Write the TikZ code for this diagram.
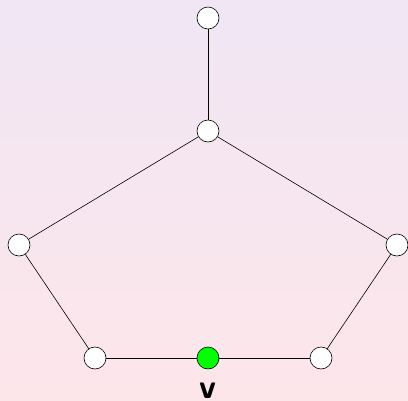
\documentclass[tikz,border=0pt]{standalone}
\usepackage{fontspec}
\usepackage{tikz}
\usetikzlibrary{calc,positioning}
\usepackage{xcolor}
\definecolor{bgtop}{RGB}{240,230,244}
\definecolor{bgbot}{RGB}{253,230,234}
\tikzset{
  vert/.style={circle, draw, fill=white, minimum size=22pt, inner sep=0pt, line width=0.6pt},
  edge/.style={line width=0.6pt}
}
\begin{document}
\begin{tikzpicture}[x=1pt, y=-1pt]
\shade[top color=bgtop, bottom color=bgbot] (0,0) rectangle (408,400);
\useasboundingbox (0,0) rectangle (408,400);

% vertices of the graph
\foreach \name/\x/\y in {t/208/18, c/208/131, l/19/245, r/397/245, bl/95/358, br/321/358}{
  \node[vert] (\name) at (\x,\y) {};
}
\node[vert, fill=green] (v) at (208,358) {};
\node[anchor=north, inner sep=0pt, font=\sffamily\bfseries\fontsize{34}{34}\selectfont] (vlab) at (208,383) {v};

% edges
\draw[edge] (t) -- (c);
\draw[edge] (c) -- (l);
\draw[edge] (c) -- (r);
\draw[edge] (l) -- (bl);
\draw[edge] (bl) -- (v);
\draw[edge] (v) -- (br);
\draw[edge] (br) -- (r);
\end{tikzpicture}
\end{document}
